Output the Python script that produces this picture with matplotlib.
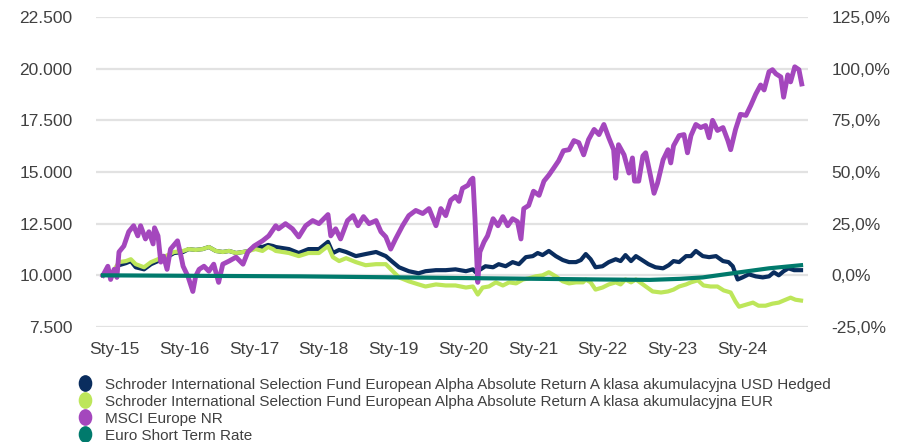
import numpy as np
import matplotlib
matplotlib.use("Agg")
import matplotlib.pyplot as plt
from matplotlib.lines import Line2D
from matplotlib.path import Path
from matplotlib.transforms import Affine2D
from matplotlib.ticker import FixedLocator, FuncFormatter

plt.rcParams['font.family'] = ['Liberation Sans', 'DejaVu Sans']

# decimal years / index levels (base 10 000)
msci_x = [2014.83, 2014.90, 2014.94, 2014.99, 2015.03, 2015.06, 2015.13, 2015.20, 2015.27, 2015.33,
          2015.37, 2015.44, 2015.49, 2015.55, 2015.57, 2015.62, 2015.66, 2015.70, 2015.75, 2015.80,
          2015.90, 2015.95, 2015.98, 2016.05, 2016.12, 2016.16, 2016.21, 2016.28, 2016.35, 2016.42,
          2016.49, 2016.55, 2016.64, 2016.74, 2016.84, 2016.91, 2017.00, 2017.12, 2017.21, 2017.31,
          2017.35, 2017.45, 2017.55, 2017.64, 2017.74, 2017.84, 2017.93, 2018.06, 2018.10, 2018.17,
          2018.24, 2018.34, 2018.42, 2018.49, 2018.57, 2018.65, 2018.75, 2018.82, 2018.89, 2018.96,
          2019.03, 2019.13, 2019.22, 2019.32, 2019.42, 2019.51, 2019.61, 2019.68, 2019.75, 2019.82,
          2019.89, 2019.94, 2019.99, 2020.07, 2020.11, 2020.14, 2020.17, 2020.21, 2020.24, 2020.30,
          2020.35, 2020.43, 2020.50, 2020.57, 2020.64, 2020.71, 2020.78, 2020.83, 2020.87, 2020.94,
          2021.01, 2021.09, 2021.16, 2021.23, 2021.30, 2021.37, 2021.44, 2021.52, 2021.59, 2021.66,
          2021.73, 2021.80, 2021.88, 2021.95, 2022.02, 2022.09, 2022.16, 2022.19, 2022.23, 2022.31,
          2022.38, 2022.43, 2022.46, 2022.52, 2022.58, 2022.62, 2022.66, 2022.69, 2022.74, 2022.79,
          2022.87, 2022.94, 2022.98, 2023.02, 2023.10, 2023.17, 2023.22, 2023.27, 2023.34, 2023.41,
          2023.48, 2023.53, 2023.58, 2023.65, 2023.73, 2023.80, 2023.84, 2023.91, 2023.98, 2024.06,
          2024.13, 2024.20, 2024.27, 2024.32, 2024.39, 2024.44, 2024.49, 2024.56, 2024.60, 2024.66,
          2024.70, 2024.76, 2024.82, 2024.86]
msci_y = [10000, 10440, 9800, 10290, 9900, 11130, 11420, 12110, 12400, 11910,
          12400, 11760, 12110, 11520, 12300, 11910, 10640, 10930, 10290, 11270,
          11670, 10930, 10440, 9950, 9220, 9950, 10290, 10440, 10200, 10540,
          9660, 10540, 10690, 10880, 10540, 11130, 11420, 11670, 11910, 12400,
          12250, 12500, 12250, 11860, 12400, 12650, 12500, 12940, 11910, 12250,
          11760, 12650, 12890, 12400, 12840, 12500, 12650, 12110, 11860, 11270,
          11760, 12400, 12890, 13140, 12990, 13230, 12400, 13230, 12890, 13630,
          13820, 13580, 14210, 14360, 14610, 14700, 12740, 9660, 11130, 11620,
          11910, 12740, 12400, 12840, 12400, 12740, 12600, 11760, 13230, 13380,
          14070, 13870, 14560, 14850, 15190, 15540, 16030, 16080, 16520, 16420,
          15830, 16570, 17060, 16810, 17300, 16660, 16080, 14700, 16320, 15830,
          14950, 15680, 14560, 14560, 15780, 15930, 15290, 14800, 13970, 14460,
          15590, 16080, 15440, 16270, 16760, 16810, 15930, 16760, 17300, 17150,
          17250, 16660, 17500, 17010, 17150, 16520, 16080, 17060, 17790, 17740,
          18230, 18770, 19210, 18970, 19850, 19950, 19750, 19600, 18620, 19700,
          19360, 20090, 19950, 19260]

usd_x = [2014.83, 2014.97, 2015.06, 2015.16, 2015.23, 2015.30, 2015.42, 2015.52, 2015.62, 2015.70,
         2015.85, 2015.98, 2016.06, 2016.16, 2016.26, 2016.35, 2016.45, 2016.55, 2016.64, 2016.74,
         2016.84, 2016.92, 2017.02, 2017.12, 2017.20, 2017.27, 2017.31, 2017.50, 2017.64, 2017.78,
         2017.93, 2018.06, 2018.13, 2018.22, 2018.32, 2018.46, 2018.60, 2018.75, 2018.89, 2018.99,
         2019.08, 2019.22, 2019.36, 2019.46, 2019.61, 2019.75, 2019.89, 2020.04, 2020.14, 2020.18,
         2020.25, 2020.32, 2020.43, 2020.51, 2020.61, 2020.71, 2020.80, 2020.90, 2021.00, 2021.07,
         2021.14, 2021.23, 2021.33, 2021.43, 2021.52, 2021.62, 2021.69, 2021.76, 2021.83, 2021.90,
         2022.00, 2022.09, 2022.19, 2022.26, 2022.33, 2022.41, 2022.48, 2022.55, 2022.66, 2022.76,
         2022.87, 2022.95, 2023.02, 2023.10, 2023.20, 2023.27, 2023.34, 2023.44, 2023.53, 2023.63,
         2023.73, 2023.81, 2023.87, 2023.94, 2024.01, 2024.10, 2024.20, 2024.30, 2024.39, 2024.46,
         2024.53, 2024.60, 2024.67, 2024.75, 2024.85]
usd_y = [10000, 10150, 10490, 10590, 10690, 10390, 10290, 10540, 10690, 10780,
         11080, 11130, 11270, 11230, 11270, 11370, 11180, 11130, 11180, 11080,
         11130, 11180, 11420, 11370, 11470, 11420, 11370, 11270, 11080, 11270,
         11270, 11620, 11080, 11230, 11130, 10930, 11030, 11130, 10930, 10640,
         10390, 10200, 10100, 10200, 10250, 10250, 10290, 10200, 10290, 10150,
         10290, 10440, 10390, 10540, 10440, 10640, 10540, 10880, 10930, 11080,
         10980, 11180, 10930, 10740, 10640, 10640, 10740, 11030, 10780, 10390,
         10440, 10640, 10780, 10690, 10980, 10690, 10930, 10780, 10540, 10390,
         10340, 10490, 10690, 10640, 10930, 10930, 11180, 10930, 10880, 10930,
         10690, 10640, 10440, 9800, 9900, 10050, 9950, 9900, 9950, 10150,
         10000, 10200, 10340, 10250, 10250]

eur_x = [2014.83, 2014.97, 2015.06, 2015.16, 2015.23, 2015.30, 2015.42, 2015.52, 2015.62, 2015.70,
         2015.85, 2015.98, 2016.06, 2016.16, 2016.26, 2016.35, 2016.45, 2016.55, 2016.64, 2016.74,
         2016.84, 2016.92, 2017.02, 2017.12, 2017.20, 2017.27, 2017.31, 2017.50, 2017.64, 2017.78,
         2017.93, 2018.06, 2018.13, 2018.22, 2018.32, 2018.46, 2018.60, 2018.75, 2018.89, 2018.99,
         2019.08, 2019.22, 2019.36, 2019.46, 2019.61, 2019.75, 2019.89, 2020.04, 2020.14, 2020.21,
         2020.28, 2020.37, 2020.47, 2020.57, 2020.66, 2020.76, 2020.86, 2020.94, 2021.04, 2021.14,
         2021.23, 2021.33, 2021.43, 2021.52, 2021.62, 2021.72, 2021.76, 2021.83, 2021.90, 2022.00,
         2022.09, 2022.19, 2022.26, 2022.33, 2022.41, 2022.48, 2022.58, 2022.72, 2022.84, 2022.94,
         2023.02, 2023.10, 2023.20, 2023.27, 2023.37, 2023.45, 2023.55, 2023.65, 2023.74, 2023.84,
         2023.91, 2023.96, 2024.06, 2024.16, 2024.24, 2024.34, 2024.44, 2024.53, 2024.60, 2024.70,
         2024.77, 2024.85]
eur_y = [10000, 10150, 10640, 10690, 10780, 10540, 10390, 10640, 10780, 10880,
         11130, 11180, 11270, 11230, 11270, 11370, 11180, 11130, 11180, 11080,
         11130, 11180, 11270, 11180, 11370, 11270, 11180, 11080, 10930, 11080,
         11080, 11420, 10880, 10690, 10830, 10640, 10490, 10540, 10540, 10200,
         9900, 9710, 9560, 9460, 9560, 9510, 9510, 9410, 9460, 9070,
         9410, 9460, 9660, 9510, 9660, 9610, 9800, 9850, 9950, 10000,
         10150, 9950, 9710, 9610, 9660, 9660, 9800, 9660, 9310, 9410,
         9560, 9660, 9560, 9800, 9660, 9800, 9560, 9220, 9170, 9220,
         9310, 9460, 9560, 9660, 9760, 9510, 9460, 9460, 9270, 9170,
         8730, 8480, 8580, 8680, 8530, 8530, 8630, 8680, 8780, 8920,
         8820, 8780]

estr_x = [2014.83, 2016.22, 2017.66, 2019.09, 2020.53, 2021.96, 2022.68, 2023.11, 2023.44,
          2023.91, 2024.39, 2024.85]
estr_y = [10000, 9975, 9950, 9900, 9850, 9800, 9780, 9830, 9900, 10120, 10340, 10490]

years = list(range(2015, 2025))
year_labels = ['Sty-%02d' % (y % 100) for y in years]
left_ticks = [7500, 10000, 12500, 15000, 17500, 20000, 22500]
right_ticks = [-25, 0, 25, 50, 75, 100, 125]

labels = [
    'Schroder International Selection Fund European Alpha Absolute Return A klasa akumulacyjna USD Hedged',
    'Schroder International Selection Fund European Alpha Absolute Return A klasa akumulacyjna EUR',
    'MSCI Europe NR',
    'Euro Short Term Rate',
]
colors = ['#0a2d5e', '#bde65a', '#a447bd', '#007a6c']
text_color = '#404040'

fig = plt.figure(figsize=(8.98, 4.42), dpi=100)
ax = fig.add_axes([96 / 898, 1 - 327 / 442, (808 - 96) / 898, (327 - 17) / 442])

ax.plot(usd_x, usd_y, color=colors[0], lw=3, zorder=3)
ax.plot(eur_x, eur_y, color=colors[1], lw=3, zorder=4)
ax.plot(msci_x, msci_y, color=colors[2], lw=3.5, zorder=5)
ax.plot(estr_x, estr_y, color=colors[3], lw=3, zorder=6)

ax.set_xlim(2014.73, 2024.95)
ax.set_ylim(7500, 22500)
ax.xaxis.set_major_locator(FixedLocator(years))
ax.set_xticklabels(year_labels)
ax.yaxis.set_major_locator(FixedLocator(left_ticks))
ax.yaxis.set_major_formatter(FuncFormatter(lambda v, p: '{:,.0f}'.format(v).replace(',', '.')))
ax.grid(axis='y', color='#e2e2e2', lw=1.6, zorder=0)
for s in ax.spines.values():
    s.set_visible(False)
# pads are in points: 24 px ~ 17 pt
ax.tick_params(axis='both', length=0, labelsize=12.5, colors=text_color)
ax.tick_params(axis='y', pad=17)
ax.tick_params(axis='x', pad=11)

ax2 = ax.twinx()
ax2.set_ylim(-25, 125)
ax2.yaxis.set_major_locator(FixedLocator(right_ticks))
ax2.yaxis.set_major_formatter(FuncFormatter(lambda v, p: ('%.1f%%' % v).replace('.', ',')))
for s in ax2.spines.values():
    s.set_visible(False)
ax2.tick_params(axis='y', length=0, labelsize=12.5, colors=text_color, pad=17)

oval = Path.unit_circle().transformed(Affine2D().scale(0.8, 1.0))
handles = [Line2D([], [], ls='none', marker=oval, markersize=11, color=c) for c in colors]
fig.legend(handles, labels, loc='upper left', bbox_to_anchor=(68 / 898, 1 - 370 / 442),
           frameon=False, borderpad=0, handletextpad=0.7, labelspacing=0.2, handlelength=1.2,
           fontsize=11.0, labelcolor=text_color)

fig.savefig('out.png', dpi=100)
